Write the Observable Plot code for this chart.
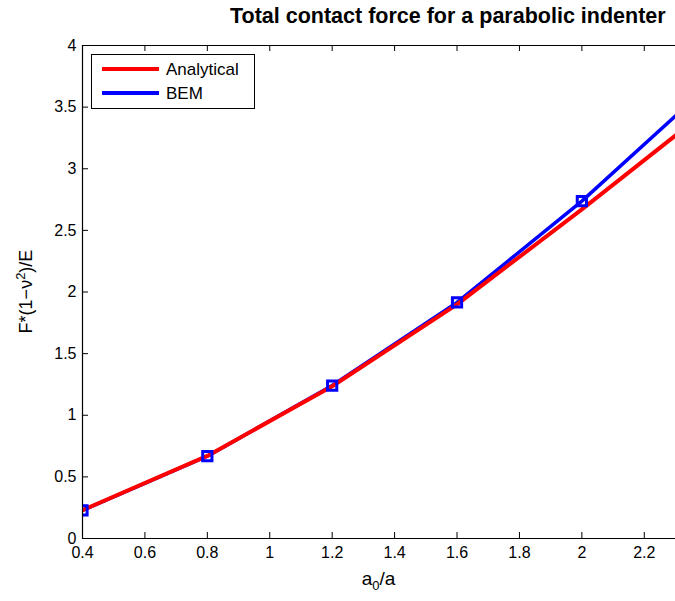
<!DOCTYPE html>
<html>
<head>
<meta charset="utf-8">
<script src="https://cdn.jsdelivr.net/npm/d3@7"></script>
<script src="https://cdn.jsdelivr.net/npm/@observablehq/plot@0.6"></script>
<style>
  html, body { margin: 0; padding: 0; background: #fff; overflow: hidden; }
  #wrap { position: relative; width: 675px; height: 601px; font-family: "Liberation Sans", Arial, sans-serif; }
  #title { position: absolute; left: 0; top: 4px; width: 675px; text-align: left; padding-left: 230px; box-sizing: border-box;
           font-size: 21.5px; font-weight: bold; color: #000; white-space: nowrap; }
  #legend { position: absolute; left: 91px; top: 54px; }
</style>
</head>
<body>
<div id="wrap">
  <div id="chart"></div>
  <div id="title">Total contact force for a parabolic indenter</div>
  <div id="legend"></div>
</div>
<script>
// Normalised indentation a0/a and total force F*(1-nu^2)/E
const ratio = [0.4, 0.8, 1.2, 1.6, 2.0, 2.4];
const analytical = [0.23, 0.67, 1.235, 1.90, 2.67, 3.47];
const bem = [0.228, 0.668, 1.241, 1.915, 2.737, 3.66];
const xTicks = [0.4, 0.6, 0.8, 1.0, 1.2, 1.4, 1.6, 1.8, 2.0, 2.2];
const yTicks = [0, 0.5, 1, 1.5, 2, 2.5, 3, 3.5, 4];
const seriesNames = ["Analytical", "BEM"];
const seriesColors = ["#ff0000", "#0000ff"];

const anaRows = ratio.map((x, i) => ({x, y: analytical[i]}));
const bemRows = ratio.map((x, i) => ({x, y: bem[i]}));

const xDomain = [0.4, 2.3];
const yDomain = [0, 4];
const tickLenX = (xDomain[1] - xDomain[0]) / 593 * 6;
const tickLenY = (yDomain[1] - yDomain[0]) / 493 * 6;

const chart = Plot.plot({
  width: 675,
  height: 601,
  marginLeft: 82,
  marginRight: 0,
  marginTop: 45,
  marginBottom: 63,
  style: {fontFamily: "Liberation Sans, Arial, sans-serif", fontSize: "16px", color: "#000", background: "#fff"},
  x: {domain: xDomain, ticks: xTicks},
  y: {domain: yDomain, ticks: yTicks},
  marks: [
    // inward ticks on bottom, top and left edges
    Plot.ruleX(xTicks, {x: d => d, y1: 0, y2: tickLenY, stroke: "#000", strokeWidth: 1}),
    Plot.ruleX(xTicks, {x: d => d, y1: 4 - tickLenY, y2: 4, stroke: "#000", strokeWidth: 1}),
    Plot.ruleY(yTicks, {y: d => d, x1: 0.4, x2: 0.4 + tickLenX, stroke: "#000", strokeWidth: 1}),
    Plot.axisX({ticks: xTicks, tickSize: 0, tickPadding: 8, label: null, tickFormat: d => String(+d.toFixed(1)), fontSize: 16}),
    Plot.axisY({ticks: yTicks, tickSize: 0, tickPadding: 6, label: null, tickFormat: d => String(d), fontSize: 16}),
    Plot.line(bemRows, {x: "x", y: "y", stroke: seriesColors[1], strokeWidth: 3.5, clip: true}),
    Plot.line(anaRows, {x: "x", y: "y", stroke: seriesColors[0], strokeWidth: 4, clip: true}),
    Plot.dot(bemRows, {x: "x", y: "y", symbol: "square", r: 5.2, stroke: seriesColors[1], strokeWidth: 3, fill: "none", clip: true}),
    // axes box (left, bottom, top)
    Plot.ruleX([0.4], {stroke: "#000", strokeWidth: 1.2}),
    Plot.ruleY([0, 4], {stroke: "#000", strokeWidth: 1.2})
  ]
});
document.getElementById("chart").appendChild(chart);

// axis labels with sub/superscripts
const svg = d3.select(chart);
const xs = chart.scale("x"), ys = chart.scale("y");
const xMid = (xs.apply(xDomain[0]) + xs.apply(xDomain[1])) / 2;
const yMid = (ys.apply(yDomain[0]) + ys.apply(yDomain[1])) / 2;

const xl = svg.append("text")
  .attr("x", xMid).attr("y", 585)
  .attr("text-anchor", "middle")
  .attr("font-size", 19).attr("fill", "#000");
xl.append("tspan").text("a");
xl.append("tspan").attr("font-size", 13).attr("dy", 5).text("0");
xl.append("tspan").attr("dy", -5).text("/a");

const yl = svg.append("text")
  .attr("transform", `translate(32,${yMid}) rotate(-90)`)
  .attr("text-anchor", "middle")
  .attr("font-size", 18).attr("fill", "#000");
yl.append("tspan").text("F*(1\u2212\u03bd");
yl.append("tspan").attr("font-size", 13).attr("dy", -7).text("2");
yl.append("tspan").attr("dy", 7).text(")/E");

// legend box
const lg = d3.select("#legend").append("svg").attr("width", 165).attr("height", 56);
lg.append("rect").attr("x", 0.5).attr("y", 0.5).attr("width", 163).attr("height", 54)
  .attr("fill", "#fff").attr("stroke", "#000").attr("stroke-width", 1);
seriesNames.forEach((name, i) => {
  const y = 15 + i * 24;
  lg.append("line").attr("x1", 11).attr("x2", 68).attr("y1", y).attr("y2", y)
    .attr("stroke", seriesColors[i]).attr("stroke-width", 4);
  lg.append("text").attr("x", 75).attr("y", y + 6).attr("font-size", 17)
    .attr("font-family", "Liberation Sans, Arial, sans-serif").attr("fill", "#000").text(name);
});
</script>
</body>
</html>
